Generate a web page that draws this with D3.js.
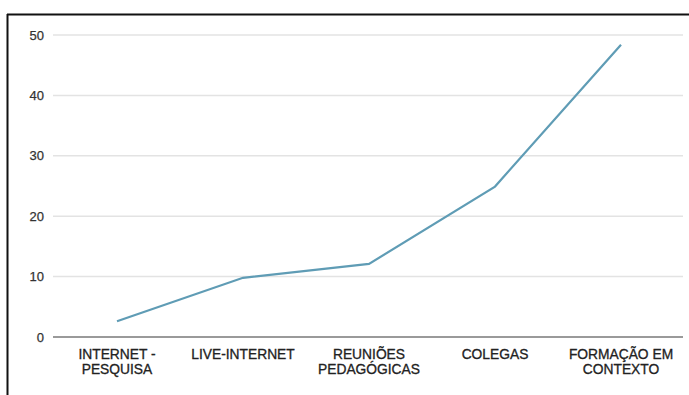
<!DOCTYPE html>
<html>
<head>
<meta charset="utf-8">
<script src="https://cdn.jsdelivr.net/npm/d3@7"></script>
<style>
  body { margin: 0; background: #fff; }
  svg { display: block; font-family: "Liberation Sans", Arial, sans-serif; }
</style>
</head>
<body>
<div id="chart"></div>
<script>
const categories = [
  ["INTERNET -", "PESQUISA"],
  ["LIVE-INTERNET"],
  ["REUNIÕES", "PEDAGÓGICAS"],
  ["COLEGAS"],
  ["FORMAÇÃO EM", "CONTEXTO"]
];
const values = [2.6, 9.8, 12.1, 24.9, 48.4];
const yTicks = [0, 10, 20, 30, 40, 50];

const width = 689, height = 395;
const margin = {top: 35, right: 5, bottom: 58, left: 54};

const svg = d3.select("#chart").append("svg")
  .attr("width", width)
  .attr("height", height);

// frame (only top and left show in the crop)
svg.append("line")
  .attr("x1", 7).attr("x2", width).attr("y1", 14.5).attr("y2", 14.5)
  .attr("stroke", "#111").attr("stroke-width", 2);
svg.append("line")
  .attr("x1", 7.5).attr("x2", 7.5).attr("y1", 14).attr("y2", height)
  .attr("stroke", "#111").attr("stroke-width", 2);

const x = d3.scaleBand()
  .domain(d3.range(categories.length))
  .range([margin.left, 684]);

const y = d3.scaleLinear()
  .domain([0, 50])
  .range([337, 35]);

// gridlines
svg.append("g")
  .selectAll("line")
  .data(yTicks.filter(d => d > 0))
  .enter().append("line")
  .attr("x1", 53).attr("x2", 683)
  .attr("y1", d => y(d)).attr("y2", d => y(d))
  .attr("stroke", "#e3e3e3")
  .attr("stroke-width", 1.5);

// baseline
svg.append("line")
  .attr("x1", 53).attr("x2", 683)
  .attr("y1", y(0)).attr("y2", y(0))
  .attr("stroke", "#9a9a9a")
  .attr("stroke-width", 2);

// y labels
svg.append("g")
  .selectAll("text")
  .data(yTicks)
  .enter().append("text")
  .attr("x", 44)
  .attr("y", d => y(d))
  .attr("dy", "0.35em")
  .attr("text-anchor", "end")
  .attr("font-size", 13)
  .attr("fill", "#333")
  .attr("stroke", "#333")
  .attr("stroke-width", 0.25)
  .text(d => d);

// x labels
const xl = svg.append("g")
  .selectAll("text")
  .data(categories)
  .enter().append("text")
  .attr("text-anchor", "middle")
  .attr("font-size", 13.8)
  .attr("fill", "#222")
  .attr("stroke", "#222")
  .attr("stroke-width", 0.3)
  .attr("x", (d, i) => x(i) + x.bandwidth() / 2);

xl.selectAll("tspan")
  .data(d => d)
  .enter().append("tspan")
  .attr("x", function() { return d3.select(this.parentNode).attr("x"); })
  .attr("y", (d, i) => 359 + i * 15)
  .text(d => d);

// line
const line = d3.line()
  .x((d, i) => x(i) + x.bandwidth() / 2)
  .y(d => y(d));

svg.append("path")
  .datum(values)
  .attr("d", line)
  .attr("fill", "none")
  .attr("stroke", "#5f9cb5")
  .attr("stroke-width", 2.2);
</script>
</body>
</html>
